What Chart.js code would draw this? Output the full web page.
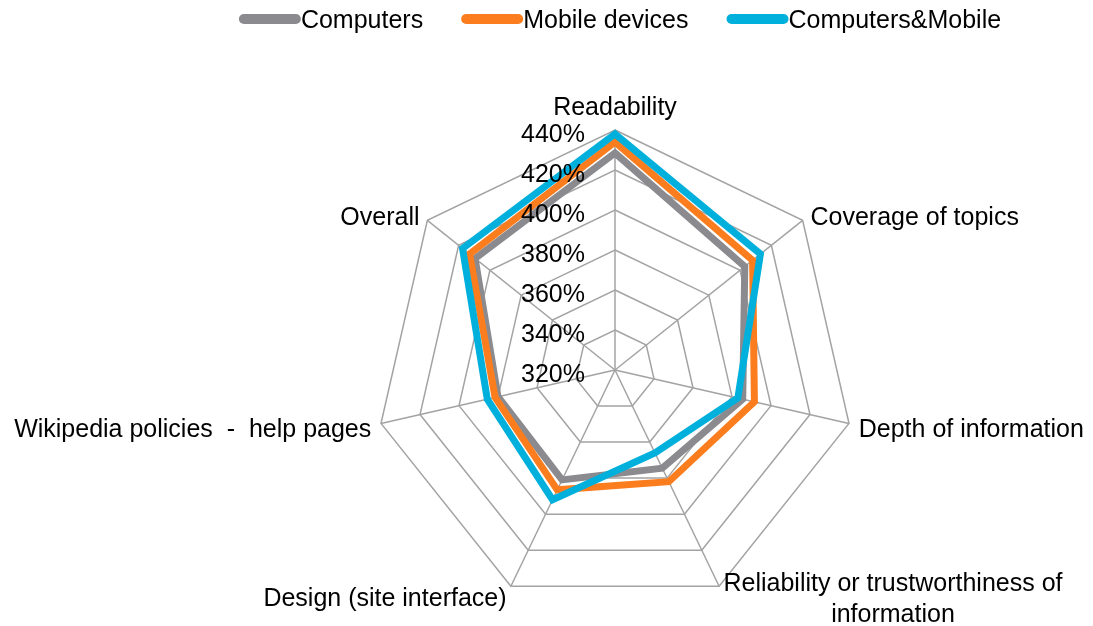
<!DOCTYPE html>
<html>
<head>
<meta charset="utf-8">
<title>Wikipedia ratings radar</title>
<script src="https://cdn.jsdelivr.net/npm/chart.js@4/dist/chart.umd.min.js"></script>
<style>
  html, body { margin: 0; padding: 0; background: #fff; }
  #wrap { width: 1093px; height: 626px; position: relative; }
</style>
</head>
<body>
<div id="wrap"><canvas id="radarChart"></canvas></div>
<script>
// categories, clockwise from the top
const categories = [
  "Readability",
  "Coverage of topics",
  "Depth of information",
  ["Reliability or trustworthiness of", "information"],
  "Design (site interface)",
  "Wikipedia policies  -  help pages",
  "Overall"
];

// series values in percent
const computers = [428.5, 403, 385.5, 374.5, 381, 380, 409.5];
const mobileDevices = [434, 408, 391.5, 382, 386.5, 381.5, 413];
const computersMobile = [438, 413, 383, 366, 392, 385.5, 417.5];

// tick labels on the vertical axis
const tickValues = [320, 340, 360, 380, 400, 420, 440];

const FONT = '25px "Liberation Sans", Arial, sans-serif';
const GRID = '#a3a3a3';

// legend above the chart: bar then text, centred
const legendPlugin = {
  id: 'topLegend',
  afterDraw(chart) {
    const ctx = chart.ctx;
    const scale = chart.scales.r;
    ctx.save();
    ctx.font = FONT;
    const barW = 62, gap = 38, y = 19;
    const items = chart.data.datasets.map(ds => ({
      text: ds.label,
      color: ds.borderColor,
      w: ctx.measureText(ds.label).width
    }));
    const total = items.reduce((s, it) => s + barW + it.w, 0) + gap * (items.length - 1);
    let x = scale.xCenter + 5 - total / 2;
    items.forEach(it => {
      ctx.fillStyle = it.color;
      ctx.beginPath();
      ctx.roundRect(x, y - 5, barW, 10, 5);
      ctx.fill();
      ctx.fillStyle = '#000';
      ctx.textAlign = 'left';
      ctx.textBaseline = 'middle';
      ctx.fillText(it.text, x + barW, y + 2);
      x += barW + it.w + gap;
    });
    ctx.restore();
  }
};

// tick labels left of the top axis, and the category labels round the web
const labelPlugin = {
  id: 'radarText',
  afterDraw(chart) {
    const ctx = chart.ctx;
    const scale = chart.scales.r;
    const R = scale.drawingArea + 10;
    ctx.save();
    ctx.font = FONT;
    ctx.fillStyle = '#000';

    ctx.textAlign = 'right';
    ctx.textBaseline = 'middle';
    tickValues.forEach(v => {
      const p = scale.getPointPosition(0, scale.getDistanceFromCenterForValue(v));
      ctx.fillText(v + '%', p.x - 30, p.y + 5);
    });

    ctx.textAlign = 'center';
    categories.forEach((label, i) => {
      const lines = Array.isArray(label) ? label : [label];
      const p = scale.getPointPosition(i, R);
      const dx = p.x - scale.xCenter;
      const lineH = 31;
      const blockW = Math.max(...lines.map(l => ctx.measureText(l).width));
      const blockH = lines.length * lineH;
      let left, top;
      if (Math.abs(dx) < 1) {
        left = p.x - blockW / 2;
        top = p.y - blockH + 4;
      } else {
        left = dx > 0 ? p.x : p.x - blockW;
        top = p.y + 4 - blockH / 2;
      }
      lines.forEach((l, j) => ctx.fillText(l, left + blockW / 2, top + lineH * (j + 0.5)));
    });
    ctx.restore();
  }
};

new Chart(document.getElementById('radarChart'), {
  type: 'radar',
  data: {
    labels: categories,
    datasets: [
      { label: 'Computers', data: computers, borderColor: '#8b8b8f', order: 3 },
      { label: 'Mobile devices', data: mobileDevices, borderColor: '#fb7d1e', order: 2 },
      { label: 'Computers&Mobile', data: computersMobile, borderColor: '#00b0dc', order: 1 }
    ]
  },
  options: {
    responsive: true,
    maintainAspectRatio: false,
    animation: false,
    layout: { padding: { top: 130, bottom: 16, left: 137, right: 0 } },
    elements: {
      line: { borderWidth: 7, fill: false, tension: 0, borderJoinStyle: 'miter' },
      point: { radius: 0, hoverRadius: 0 }
    },
    scales: {
      r: {
        min: 320,
        max: 440,
        ticks: { stepSize: 20, display: false },
        grid: { color: GRID, lineWidth: 1.5 },
        angleLines: { color: GRID, lineWidth: 1.5 },
        pointLabels: { display: false }
      }
    },
    plugins: {
      legend: { display: false },
      tooltip: { enabled: false }
    }
  },
  plugins: [legendPlugin, labelPlugin]
});
</script>
</body>
</html>
